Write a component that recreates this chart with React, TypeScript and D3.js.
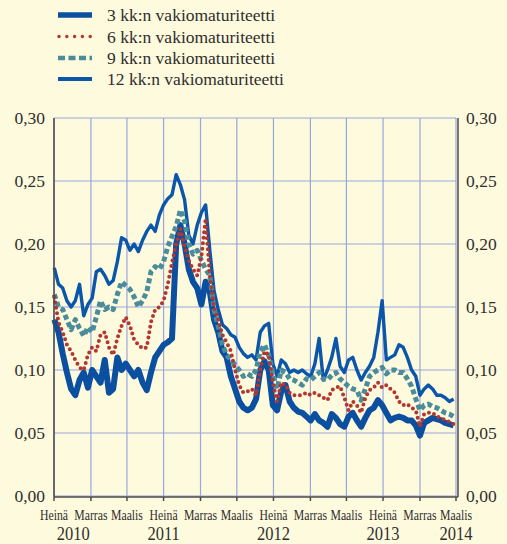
import React, { useEffect } from "react";
import * as d3 from "d3";

// Series values (biweekly observations starting 2010-07-02)
const kk3 = [0.14,0.13,0.113,0.098,0.085,0.08,0.092,0.098,0.086,0.1,0.095,0.09,0.108,0.082,0.085,0.11,0.1,0.105,0.1,0.095,0.1,0.09,0.084,0.098,0.11,0.115,0.12,0.122,0.125,0.2,0.215,0.2,0.18,0.17,0.165,0.152,0.17,0.162,0.14,0.13,0.115,0.11,0.095,0.085,0.075,0.07,0.068,0.07,0.077,0.1,0.107,0.1,0.072,0.068,0.083,0.088,0.075,0.07,0.067,0.066,0.063,0.06,0.065,0.06,0.058,0.055,0.065,0.062,0.057,0.055,0.063,0.066,0.06,0.055,0.062,0.068,0.07,0.076,0.072,0.066,0.06,0.062,0.063,0.062,0.06,0.06,0.056,0.048,0.058,0.06,0.062,0.061,0.06,0.058,0.057,0.056];
const kk6 = [0.158,0.138,0.13,0.12,0.115,0.108,0.102,0.1,0.112,0.118,0.115,0.128,0.13,0.118,0.112,0.125,0.135,0.142,0.135,0.124,0.12,0.117,0.118,0.138,0.148,0.15,0.155,0.168,0.185,0.2,0.212,0.198,0.187,0.18,0.175,0.19,0.22,0.175,0.15,0.14,0.128,0.122,0.115,0.1,0.088,0.082,0.083,0.085,0.08,0.1,0.115,0.112,0.09,0.075,0.09,0.088,0.082,0.08,0.08,0.08,0.082,0.08,0.082,0.08,0.078,0.076,0.084,0.086,0.087,0.078,0.068,0.075,0.072,0.066,0.078,0.084,0.086,0.09,0.086,0.088,0.085,0.082,0.075,0.072,0.073,0.07,0.068,0.055,0.065,0.066,0.066,0.063,0.062,0.06,0.059,0.057];
const kk9 = [0.16,0.15,0.148,0.14,0.132,0.14,0.133,0.127,0.134,0.13,0.142,0.155,0.148,0.15,0.148,0.16,0.17,0.167,0.164,0.158,0.15,0.155,0.162,0.178,0.182,0.18,0.186,0.198,0.206,0.214,0.227,0.218,0.2,0.192,0.195,0.187,0.18,0.175,0.148,0.135,0.12,0.112,0.108,0.104,0.1,0.095,0.097,0.095,0.1,0.115,0.12,0.112,0.097,0.085,0.1,0.098,0.093,0.092,0.09,0.088,0.093,0.092,0.095,0.098,0.093,0.092,0.096,0.098,0.093,0.09,0.087,0.085,0.084,0.076,0.085,0.095,0.098,0.1,0.102,0.097,0.1,0.1,0.098,0.098,0.093,0.087,0.077,0.068,0.072,0.073,0.071,0.07,0.068,0.066,0.065,0.063];
const kk12 = [0.181,0.168,0.165,0.155,0.15,0.155,0.168,0.143,0.152,0.157,0.178,0.18,0.175,0.168,0.171,0.186,0.205,0.203,0.195,0.2,0.194,0.203,0.21,0.215,0.21,0.223,0.231,0.236,0.239,0.255,0.247,0.235,0.207,0.2,0.215,0.225,0.231,0.195,0.163,0.148,0.136,0.133,0.128,0.126,0.118,0.113,0.11,0.112,0.108,0.13,0.135,0.137,0.105,0.095,0.108,0.105,0.098,0.1,0.098,0.1,0.097,0.095,0.105,0.125,0.092,0.1,0.11,0.125,0.103,0.098,0.108,0.11,0.1,0.092,0.098,0.103,0.11,0.13,0.155,0.108,0.11,0.112,0.12,0.118,0.11,0.1,0.095,0.08,0.085,0.088,0.085,0.08,0.08,0.078,0.075,0.077];

const seriesNames = [
  "3 kk:n vakiomaturiteetti",
  "6 kk:n vakiomaturiteetti",
  "9 kk:n vakiomaturiteetti",
  "12 kk:n vakiomaturiteetti",
];

const tickDates: [number, number][] = [
  [2010, 6], [2010, 10], [2011, 2], [2011, 6], [2011, 10], [2012, 2],
  [2012, 6], [2012, 10], [2013, 2], [2013, 6], [2013, 10], [2014, 2],
];
const tickLabels = ["Heinä","Marras","Maalis","Heinä","Marras","Maalis","Heinä","Marras","Maalis","Heinä","Marras","Maalis"];
const yearLabels = ["2010", "2011", "2012", "2013", "2014"];
const yearLabelDates: [number, number, number][] = [
  [2010, 8, 3], [2011, 6, 1], [2012, 6, 1], [2013, 6, 1], [2014, 2, 1],
];
const yTicks = [0, 0.05, 0.1, 0.15, 0.2, 0.25, 0.3];

const BG = "#fefadd";
const FONT = "Liberation Serif, Times New Roman, Tinos, DejaVu Serif, Noto Serif, serif";
const TEXT = "#2e2e2e";
const GRID = "#98a6dc";
const AXIS = "#4a4a4a";

const styles = [
  { color: "#0a4fa0", width: 6, dash: undefined as string | undefined, cap: "butt" },
  { color: "#b3372f", width: 4, dash: "0 5.5", cap: "round" },
  { color: "#4b8c9b", width: 5, dash: "5 3", cap: "butt" },
  { color: "#0a56aa", width: 3.4, dash: undefined as string | undefined, cap: "butt" },
];

export default function App() {
  useEffect(() => {
    document.body.style.margin = "0";
    document.body.style.background = BG;
  }, []);

  const W = 507, H = 544;
  const x = d3.scaleTime()
    .domain([new Date(2010, 6, 1), new Date(2014, 2, 1)])
    .range([54, 456]);
  const y = d3.scaleLinear().domain([0, 0.3]).range([496, 118]);
  const start = new Date(2010, 6, 2);
  const dates = kk3.map((_, i) => d3.timeDay.offset(start, i * 14));

  const line = d3.line<number>()
    .x((_, i) => x(dates[i]))
    .y((d) => y(d));

  const all = [kk3, kk6, kk9, kk12];
  const drawOrder = [0, 3, 2, 1];
  const ticks = tickDates.map(([yy, mm]) => x(new Date(yy, mm, 1)));

  const legendY = [15, 36.5, 58, 79];

  return (
    <svg width={W} height={H} style={{ position: "absolute", left: 0, top: 0, background: BG }}>
      <rect x={0} y={0} width={W} height={H} fill={BG} />
      {/* legend */}
      {seriesNames.map((name, i) => {
        const s = styles[i];
        return (
          <g key={name}>
            <line x1={i === 1 ? 59 : 58} x2={92} y1={legendY[i]} y2={legendY[i]}
              stroke={s.color}
              strokeWidth={i === 0 ? 5.5 : i === 3 ? 4 : i === 1 ? 3.5 : 4.5}
              strokeDasharray={i === 1 ? "0 7.8" : i === 2 ? "7 3.5" : undefined}
              strokeLinecap={s.cap as any} />
            <text x={107} y={legendY[i] + 6} fontSize={17.5} fill={TEXT} fontFamily={FONT}>{name}</text>
          </g>
        );
      })}
      {/* grid */}
      {yTicks.map((t) => (
        <line key={"h" + t} x1={54} x2={456} y1={y(t)} y2={y(t)} stroke={GRID} strokeWidth={1.2} />
      ))}
      {ticks.map((tx, i) => (
        <line key={"v" + i} x1={tx} x2={tx} y1={y(0.3)} y2={y(0)} stroke={GRID} strokeWidth={1.2} />
      ))}
      {/* series */}
      {drawOrder.map((i) => {
        const s = styles[i];
        return (
          <path key={"s" + i} d={line(all[i]) || ""} fill="none" stroke={s.color}
            strokeWidth={s.width} strokeDasharray={s.dash}
            strokeLinecap={s.cap as any} strokeLinejoin="round" />
        );
      })}
      {/* axes */}
      <line x1={54} x2={54} y1={y(0.3)} y2={497} stroke={AXIS} strokeWidth={1.5} />
      <line x1={458} x2={458} y1={y(0.3)} y2={497} stroke={AXIS} strokeWidth={1.5} />
      <line x1={54} x2={458} y1={497} y2={497} stroke={AXIS} strokeWidth={1.5} />
      {ticks.map((tx, i) => (
        <line key={"t" + i} x1={tx} x2={tx} y1={497} y2={501} stroke={AXIS} strokeWidth={1.5} />
      ))}
      {/* y labels */}
      {yTicks.map((t) => {
        const lbl = d3.format(".2f")(t).replace(".", ",");
        return (
          <g key={"yl" + t}>
            <text x={45} y={y(t) + 6} fontSize={17.5} fill={TEXT} textAnchor="end" fontFamily={FONT}>{lbl}</text>
            <text x={466} y={y(t) + 6} fontSize={17.5} fill={TEXT} textAnchor="start" fontFamily={FONT}>{lbl}</text>
          </g>
        );
      })}
      {/* x labels */}
      {ticks.map((tx, i) => (
        <text key={"xl" + i} transform={`translate(${tx},${520}) scale(0.84,1)`} fontSize={14} fill={TEXT} textAnchor="middle" fontFamily={FONT}>{tickLabels[i]}</text>
      ))}
      {yearLabels.map((yl, i) => {
        const [yy, mm, dd] = yearLabelDates[i];
        const px = x(new Date(yy, mm, dd));
        return (
          <text key={yl} transform={`translate(${px},${540}) scale(0.89,1)`} fontSize={18.5} fill={TEXT} textAnchor="middle" fontFamily={FONT}>{yl}</text>
        );
      })}
    </svg>
  );
}
